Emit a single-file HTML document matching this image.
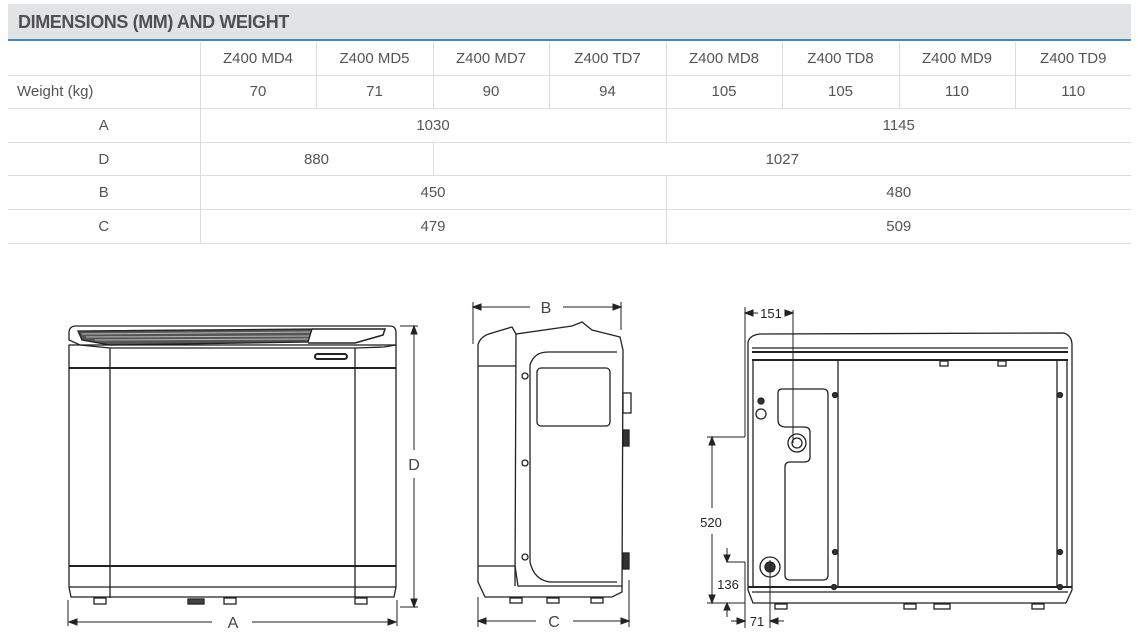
<!DOCTYPE html>
<html><head><meta charset="utf-8"><style>
body{margin:0;width:1138px;height:642px;background:#fff;font-family:"Liberation Sans",sans-serif;overflow:hidden;position:relative}
.hd{position:absolute;left:8px;top:4px;width:1123px;height:37px;background:#e2e3e5;border-bottom:2px solid #3a8ec4;box-sizing:border-box}
.hd span{position:absolute;left:10px;top:8px;font-size:18px;font-weight:bold;color:#505050;letter-spacing:-0.4px}
table{position:absolute;left:8px;top:42px;border-collapse:collapse;width:1123px;font-size:15px;color:#555}
td{height:32.6px;border-bottom:1px solid #ddd;border-right:1px solid #ddd;text-align:center;padding:0}
td.f{text-align:left;padding-left:9px}
td:last-child{border-right:none}
svg{position:absolute;left:0;top:0}
</style></head><body>
<div class="hd"><span>DIMENSIONS (MM) AND WEIGHT</span></div>
<table>
<colgroup><col style="width:192px"><col style="width:116px"><col style="width:117px"><col style="width:116px"><col style="width:117px"><col style="width:116px"><col style="width:117px"><col style="width:116px"><col style="width:116px"></colgroup>
<tr><td></td><td>Z400 MD4</td><td>Z400 MD5</td><td>Z400 MD7</td><td>Z400 TD7</td><td>Z400 MD8</td><td>Z400 TD8</td><td>Z400 MD9</td><td>Z400 TD9</td></tr>
<tr><td class="f">Weight (kg)</td><td>70</td><td>71</td><td>90</td><td>94</td><td>105</td><td>105</td><td>110</td><td>110</td></tr>
<tr><td>A</td><td colspan="4">1030</td><td colspan="4">1145</td></tr>
<tr><td>D</td><td colspan="2">880</td><td colspan="6">1027</td></tr>
<tr><td>B</td><td colspan="4">450</td><td colspan="4">480</td></tr>
<tr><td>C</td><td colspan="4">479</td><td colspan="4">509</td></tr>
</table>
<svg width="1138" height="642" viewBox="0 0 1138 642" fill="none" stroke="#222" stroke-width="1.3">
<!-- FRONT -->
<path d="M69,333 Q69,326 76,326 L390,326 Q396,326 396,333 L396,345 L384,347 L356,348 L110,348 L80,345 L69,340z"/>
<path d="M78,331 L312,329 L308,342 L110,345 L82,340z" fill="#555" stroke="#222"/>
<path d="M82,334 L310,332 M86,337 L309,336 M95,340 L308,339" stroke="#bbb" stroke-width="1"/>
<path d="M312,329 L385,329 L383,335 L355,343 L308,343" stroke-width="1.5"/>
<rect x="69" y="345" width="327" height="23"/>
<line x1="69" y1="368" x2="396" y2="368" stroke-width="2"/>
<line x1="69" y1="368" x2="69" y2="566"/><line x1="396" y1="368" x2="396" y2="566"/>
<line x1="110" y1="348" x2="110" y2="598"/><line x1="355" y1="348" x2="355" y2="598"/>
<rect x="315" y="354" width="32" height="5" rx="2.5" stroke-width="2"/>
<path d="M69,566 L396,566 L396,587 L394,597 L71,597 L69,587z"/>
<line x1="69" y1="566" x2="396" y2="566" stroke-width="2"/>
<line x1="69" y1="587" x2="396" y2="587"/>
<rect x="94" y="598" width="12" height="6"/><rect x="224" y="598" width="12" height="6"/><rect x="355" y="598" width="12" height="6"/>
<rect x="188" y="599" width="16" height="5" fill="#444"/>
<g stroke-width="1"><line x1="68" y1="600" x2="68" y2="626"/><line x1="397" y1="600" x2="397" y2="626"/>
<line x1="76" y1="622" x2="212" y2="622"/>
<path d="M69,622 L77,619 L77,625z" fill="#222"/>
<line x1="252" y1="622" x2="388" y2="622"/><path d="M396,622 L388,619 L388,625z" fill="#222"/>
<line x1="400" y1="326" x2="418" y2="326"/><line x1="400" y1="607" x2="418" y2="607"/>
<line x1="414" y1="334" x2="414" y2="450"/><path d="M414,326 L411,334 L417,334z" fill="#222"/>
<line x1="414" y1="478" x2="414" y2="599"/><path d="M414,607 L411,599 L417,599z" fill="#222"/></g>
<!-- SIDE -->
<path d="M478,345 Q480,336 492,333 L512,327 L516,334 L572,326 L582,322 L592,330 L620,337 L623,350 L622,592 L612,597 L485,597 L478,582z"/>
<line x1="478" y1="366" x2="516" y2="366"/><line x1="516" y1="334" x2="515" y2="586"/>
<path d="M478,566 L515,566 L518,586 L622,586"/>
<path d="M617,352 L548,352 Q534,352 530,365 L530,562 Q534,580 550,582 L617,582"/>
<rect x="537" y="368" width="73" height="58" rx="4"/>
<circle cx="525" cy="376" r="3"/><circle cx="525" cy="463" r="3"/><circle cx="525" cy="557" r="3"/>
<rect x="623" y="430" width="6" height="16" fill="#333"/><rect x="623" y="553" width="6" height="16" fill="#333"/>
<rect x="623" y="393" width="8" height="20"/>
<rect x="510" y="598" width="12" height="5"/><rect x="547" y="598" width="12" height="5"/><rect x="591" y="598" width="12" height="5"/>
<g stroke-width="1"><line x1="473" y1="302" x2="473" y2="344"/><line x1="621" y1="302" x2="621" y2="330"/>
<line x1="481" y1="307" x2="530" y2="307"/><path d="M473,307 L481,304 L481,310z" fill="#222"/>
<line x1="563" y1="307" x2="613" y2="307"/><path d="M621,307 L613,304 L613,310z" fill="#222"/>
<line x1="478" y1="597" x2="478" y2="627"/><line x1="629" y1="580" x2="629" y2="627"/>
<line x1="486" y1="621" x2="536" y2="621"/><path d="M478,621 L486,618 L486,624z" fill="#222"/>
<line x1="573" y1="621" x2="621" y2="621"/><path d="M629,621 L621,618 L621,624z" fill="#222"/></g>
<!-- BACK -->
<path d="M748,342 Q750,335 760,334 L1064,333 Q1072,336 1072,345 L1072,590 L1066,603 L753,603 L748,590z"/>
<line x1="752" y1="348" x2="1068" y2="348"/><line x1="752" y1="352" x2="1068" y2="352" stroke-width="2"/>
<line x1="752" y1="360" x2="1068" y2="360" stroke-width="2"/>
<line x1="753" y1="360" x2="753" y2="587"/><line x1="1067" y1="360" x2="1067" y2="587"/>
<line x1="838" y1="361" x2="838" y2="587"/><line x1="1057" y1="361" x2="1057" y2="587"/>
<line x1="748" y1="587" x2="1072" y2="587" stroke-width="2"/><line x1="752" y1="592" x2="1068" y2="592"/>
<path d="M782,389 L823,389 Q828,389 828,394 L828,575 Q828,580 823,580 L790,580 Q785,580 785,575 L785,467 Q785,462 790,462 L804,462 Q810,462 810,457 L810,432 Q810,427 804,427 L786,427 Q778,427 778,420 L778,393 Q778,389 782,389z"/>
<circle cx="797" cy="443" r="9"/><circle cx="797" cy="443" r="5"/>
<circle cx="770" cy="567" r="10"/><circle cx="770" cy="567" r="5" fill="#333"/>
<circle cx="761" cy="401" r="3" fill="#333"/><circle cx="761" cy="414" r="5"/>
<circle cx="835" cy="395" r="2.5" fill="#333"/><circle cx="835" cy="552" r="2.5" fill="#333"/><circle cx="834" cy="587" r="2.5" fill="#333"/>
<circle cx="1060" cy="395" r="2.5" fill="#333"/><circle cx="1060" cy="552" r="2.5" fill="#333"/><circle cx="1060" cy="587" r="2.5" fill="#333"/>
<rect x="940" y="361" width="8" height="5"/><rect x="998" y="361" width="8" height="5"/>
<rect x="775" y="604" width="12" height="5"/><rect x="904" y="604" width="12" height="5"/><rect x="1032" y="604" width="12" height="5"/><rect x="934" y="604" width="16" height="5"/>
<g stroke-width="1"><line x1="745" y1="307" x2="745" y2="437"/><line x1="745" y1="437" x2="707" y2="437"/>
<line x1="752" y1="313" x2="758" y2="313"/><path d="M745,313 L753,310 L753,316z" fill="#222"/>
<line x1="785" y1="313" x2="793" y2="313"/><path d="M793,313 L785,310 L785,316z" fill="#222"/>
<line x1="793" y1="310" x2="793" y2="443"/>
<line x1="712" y1="445" x2="712" y2="508"/><path d="M712,437 L709,445 L715,445z" fill="#222"/>
<line x1="712" y1="534" x2="712" y2="595"/><path d="M712,603 L709,595 L715,595z" fill="#222"/>
<line x1="707" y1="603" x2="745" y2="603"/><line x1="745" y1="562" x2="745" y2="628"/>
<line x1="727" y1="562" x2="745" y2="562"/><line x1="727" y1="548" x2="727" y2="556"/><path d="M727,562 L724,555 L730,555z" fill="#222"/>
<line x1="727" y1="610" x2="727" y2="617"/><path d="M727,603 L724,610 L730,610z" fill="#222"/>
<line x1="731" y1="621" x2="738" y2="621"/><path d="M745,621 L737,618 L737,624z" fill="#222"/>
<line x1="770" y1="560" x2="770" y2="628"/><line x1="777" y1="621" x2="784" y2="621"/><path d="M770,621 L778,618 L778,624z" fill="#222"/></g>
<g fill="#444" stroke="none" font-family="Liberation Sans,sans-serif" font-size="16">
<text x="233" y="628" text-anchor="middle">A</text><text x="414" y="470" text-anchor="middle">D</text>
<text x="546" y="313" text-anchor="middle">B</text><text x="554" y="627" text-anchor="middle">C</text></g>
<g fill="#222" stroke="none" font-family="Liberation Sans,sans-serif" font-size="13">
<text x="771" y="318" text-anchor="middle">151</text><text x="711" y="527" text-anchor="middle">520</text>
<text x="728" y="589" text-anchor="middle">136</text><text x="757" y="626" text-anchor="middle">71</text></g>
</svg>
</body></html>
